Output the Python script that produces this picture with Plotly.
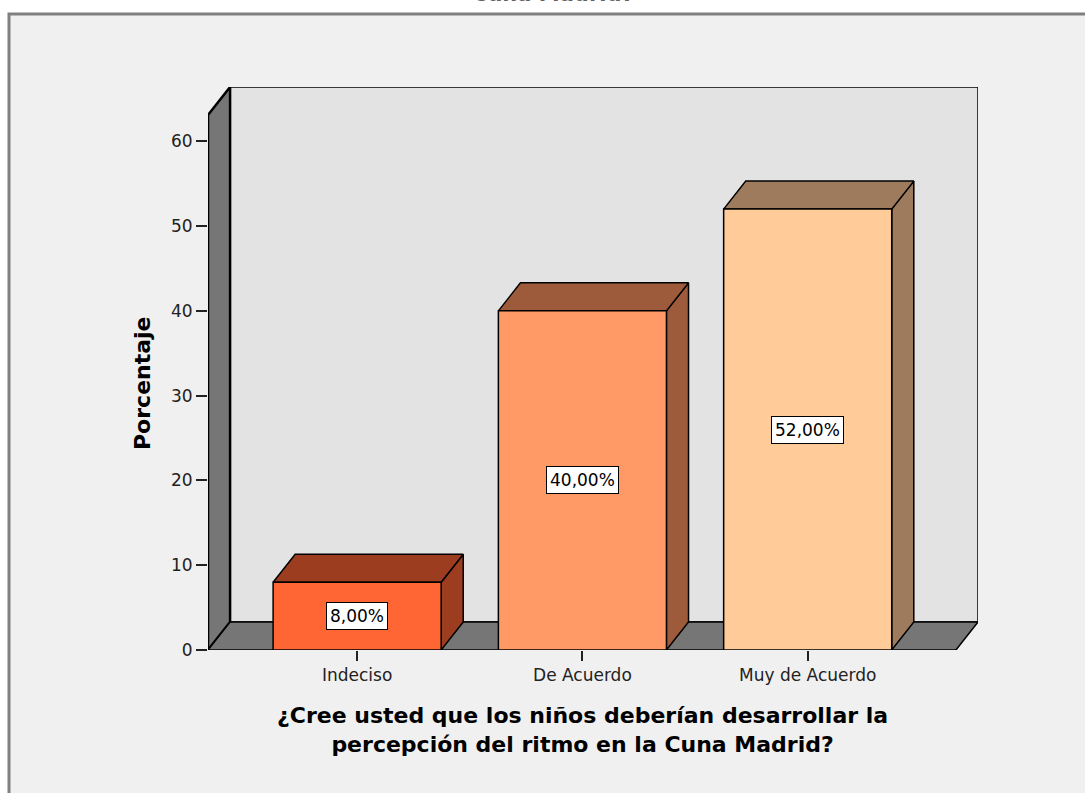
import plotly.graph_objects as go

categories = ["Indeciso", "De Acuerdo", "Muy de Acuerdo"]
values = [8.0, 40.0, 52.0]
labels = ["8,00%", "40,00%", "52,00%"]
y_ticks = [0, 10, 20, 30, 40, 50, 60]

front_colors = ["#FF6633", "#FF9966", "#FFCC99"]
dark_colors = ["#9C3D20", "#9E5B3C", "#9E7B5C"]

W, H = 1085, 793
ML, MR, MT, MB = 208, 107, 87, 143
PW = W - ML - MR
PH = H - MT - MB

FONT = "DejaVu Sans"

# 3D geometry (data units)
HALF = 0.373
DX = 0.098
DY = 3.3
X0, X1 = -0.662, 2.658
YTOP = 63.1
XR = [X0, X1 + DX]
YR = [0, YTOP + DY]

fig = go.Figure()

def poly(xs, ys, fill, lw=1.5):
    fig.add_trace(go.Scatter(
        x=xs + [xs[0]], y=ys + [ys[0]], mode="lines", fill="toself",
        fillcolor=fill, line=dict(color="black", width=lw),
        hoverinfo="skip", showlegend=False))

# walls
poly([X0 + DX, X1 + DX, X1 + DX, X0 + DX], [DY, DY, YTOP + DY, YTOP + DY], "#E3E3E3")
poly([X0, X0, X0 + DX, X0 + DX], [0, YTOP, YTOP + DY, DY], "#767676", 2.5)
poly([X0, X1, X1 + DX, X0 + DX], [0, 0, DY, DY], "#767676")

# bars
for i, v in enumerate(values):
    c = i
    l, r = c - HALF, c + HALF
    poly([r, r, r + DX, r + DX], [0, v, v + DY, DY], dark_colors[i])
    poly([l, r, r + DX, l + DX], [v, v, v + DY, v + DY], dark_colors[i])
    poly([l, r, r, l], [0, 0, v, v], front_colors[i])
    fig.add_annotation(x=c, y=v / 2, text=labels[i], showarrow=False,
                       xanchor="center", yanchor="middle",
                       font=dict(family=FONT, size=17, color="black"),
                       bgcolor="white", bordercolor="black", borderwidth=1, borderpad=3)

def px2paper_x(p):
    return (p - ML) / PW

def px2paper_y(p):
    return (H - MB - p) / PH

# outer frame
fig.add_shape(type="rect", xref="paper", yref="paper",
              x0=px2paper_x(9), x1=px2paper_x(1100),
              y0=px2paper_y(810), y1=px2paper_y(14),
              fillcolor="#F0F0F0", line=dict(color="#808080", width=3), layer="below")

# titles
fig.add_annotation(xref="paper", yref="paper", x=px2paper_x(143), y=px2paper_y(383),
                   xanchor="center", yanchor="middle",
                   text="<b>Porcentaje</b>", textangle=-90, showarrow=False,
                   font=dict(family=FONT, size=22, color="black"))
fig.add_annotation(xref="paper", yref="paper", x=px2paper_x(582), y=px2paper_y(730),
                   xanchor="center", yanchor="middle",
                   text="<b>¿Cree usted que los niños deberían desarrollar la<br>percepción del ritmo en la Cuna Madrid?</b>",
                   showarrow=False, align="center",
                   font=dict(family=FONT, size=22, color="black"))
fig.add_annotation(xref="paper", yref="paper", x=px2paper_x(553), y=px2paper_y(8.5),
                   xanchor="center", yanchor="bottom",
                   text="<b>Cuna Madrid?</b>", showarrow=False,
                   font=dict(family=FONT, size=21, color="#606060"))

fig.update_layout(
    width=W, height=H,
    margin=dict(l=ML, r=MR, t=MT, b=MB),
    paper_bgcolor="white", plot_bgcolor="rgba(0,0,0,0)",
    showlegend=False,
    xaxis=dict(range=XR, showgrid=False, zeroline=False, showline=False,
               tickmode="array", tickvals=list(range(len(categories))), ticktext=categories,
               ticks="outside", ticklen=10, tickwidth=2, tickcolor="#222",
               tickfont=dict(family=FONT, size=17, color="#222")),
    yaxis=dict(range=YR, showgrid=False, zeroline=False, showline=False,
               tickmode="array", tickvals=y_ticks,
               ticks="outside", ticklen=11, tickwidth=2, tickcolor="#222",
               tickfont=dict(family=FONT, size=17, color="#222")),
)

fig.write_html("out.html")
